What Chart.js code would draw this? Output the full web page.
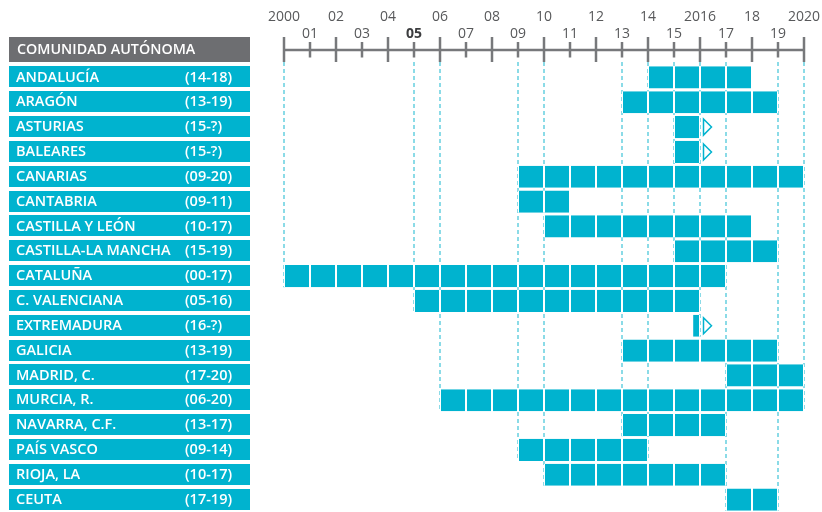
<!DOCTYPE html>
<html>
<head>
<meta charset="utf-8">
<script src="https://cdn.jsdelivr.net/npm/chart.js@4.4.1/dist/chart.umd.min.js"></script>
<style>
  html, body { margin: 0; padding: 0; background: #fff; }
</style>
</head>
<body>
<canvas id="chart" width="822" height="512"></canvas>
<script>
const regions = ['ANDALUCÍA', 'ARAGÓN', 'ASTURIAS', 'BALEARES', 'CANARIAS', 'CANTABRIA', 'CASTILLA Y LEÓN',
  'CASTILLA-LA MANCHA', 'CATALUÑA', 'C. VALENCIANA', 'EXTREMADURA', 'GALICIA', 'MADRID, C.', 'MURCIA, R.',
  'NAVARRA, C.F.', 'PAÍS VASCO', 'RIOJA, LA', 'CEUTA'];
const periods = ['(14-18)', '(13-19)', '(15-?)', '(15-?)', '(09-20)', '(09-11)', '(10-17)', '(15-19)', '(00-17)',
  '(05-16)', '(16-?)', '(13-19)', '(17-20)', '(06-20)', '(13-17)', '(09-14)', '(10-17)', '(17-19)'];
const startYears = [2014, 2013, 2015, 2015, 2009, 2009, 2010, 2015, 2000, 2005, 2015.7, 2013, 2017, 2006, 2013, 2009, 2010, 2017];
const endYears = [2018, 2019, 2016, 2016, 2020, 2011, 2018, 2019, 2017, 2016, 2016, 2019, 2020, 2020, 2017, 2014, 2017, 2019];
const openEnded = [false, false, true, true, false, false, false, false, false, false, true, false, false, false, false, false, false, false];
const tickYears = [2000, 2001, 2002, 2003, 2004, 2005, 2006, 2007, 2008, 2009, 2010, 2011, 2012, 2013, 2014, 2015, 2016, 2017, 2018, 2019, 2020];
const tickLabels = ['2000', '01', '02', '03', '04', '05', '06', '07', '08', '09', '10', '11', '12', '13', '14', '15', '2016', '17', '18', '19', '2020'];
const boldTicks = ['05'];
const dashedYears = [2000, 2005, 2006, 2009, 2010, 2013, 2014, 2015, 2016, 2017, 2019, 2020];
const headerText = 'COMUNIDAD AUTÓNOMA';

const CYAN = '#00b3cf';
const DASH = '#66cfe0';
const GREY = '#6d6e71';
const FONT = '"Open Sans", "Noto Sans", sans-serif';
const BAR_PCT = 0.89;

// one dataset per calendar year, each holding the slice of every bar that falls in that year
const datasets = [];
for (let y = 2000; y < 2020; y++) {
  datasets.push({
    data: regions.map((_, i) => (startYears[i] < y + 1 && endYears[i] > y)
      ? [Math.max(startYears[i], y), Math.min(endYears[i], y + 1)] : null),
    backgroundColor: CYAN,
    borderColor: '#ffffff',
    borderWidth: { left: 1, right: 1, top: 0, bottom: 0 },
    borderSkipped: false,
    grouped: false,
    barPercentage: BAR_PCT,
    categoryPercentage: 1,
  });
}

const ganttDecor = {
  id: 'ganttDecor',
  beforeDatasetsDraw(chart) {
    const { ctx, scales: { x, y }, chartArea } = chart;
    const half = (y.getPixelForValue(1) - y.getPixelForValue(0)) * BAR_PCT / 2;
    ctx.save();
    ctx.strokeStyle = DASH;
    ctx.lineWidth = 1.5;
    ctx.setLineDash([4, 3]);
    dashedYears.forEach(year => {
      let last = -1;
      regions.forEach((_, i) => { if (startYears[i] === year || endYears[i] === year) last = i; });
      const bottom = last < 0 ? chartArea.bottom : y.getPixelForValue(last) + half;
      const px = Math.round(x.getPixelForValue(year));
      ctx.beginPath();
      ctx.moveTo(px, 62);
      ctx.lineTo(px, bottom);
      ctx.stroke();
    });
    ctx.restore();
  },
  afterDraw(chart) {
    const { ctx, scales: { x, y } } = chart;
    ctx.save();

    // top year axis
    ctx.strokeStyle = '#77787b';
    ctx.lineWidth = 2.5;
    ctx.beginPath();
    ctx.moveTo(x.getPixelForValue(2000), 50);
    ctx.lineTo(x.getPixelForValue(2020), 50);
    ctx.stroke();
    ctx.textAlign = 'center';
    ctx.textBaseline = 'middle';
    tickYears.forEach((year, i) => {
      const px = Math.round(x.getPixelForValue(year));
      const major = year % 2 === 0;
      ctx.beginPath();
      ctx.moveTo(px, major ? 37 : 42);
      ctx.lineTo(px, major ? 62 : 57.5);
      ctx.stroke();
      const bold = boldTicks.includes(tickLabels[i]);
      ctx.fillStyle = bold ? '#3c3d3f' : '#58595b';
      ctx.font = (bold ? '700 ' : '400 ') + '14px ' + FONT;
      ctx.fillText(tickLabels[i], px, major ? 17 : 34);
    });

    // header box
    ctx.fillStyle = GREY;
    ctx.fillRect(9, 37, 241, 25);
    ctx.fillStyle = '#ffffff';
    ctx.textAlign = 'left';
    ctx.font = '600 14.3px ' + FONT;
    ctx.fillText(headerText, 17, 50);

    // row label boxes
    regions.forEach((name, i) => {
      const cy = y.getPixelForValue(i);
      ctx.fillStyle = CYAN;
      ctx.fillRect(9, Math.round(cy - 11), 241, 21);
      ctx.fillStyle = '#ffffff';
      ctx.font = '600 14.5px ' + FONT;
      ctx.fillText(name, 16, cy);
      ctx.fillText(periods[i], 185, cy);
    });

    // open-ended arrows
    ctx.strokeStyle = CYAN;
    ctx.lineWidth = 1.5;
    openEnded.forEach((open, i) => {
      if (!open) return;
      const cy = y.getPixelForValue(i);
      const ex = x.getPixelForValue(endYears[i]);
      ctx.beginPath();
      ctx.moveTo(ex + 3.5, cy - 8);
      ctx.lineTo(ex + 11.5, cy);
      ctx.lineTo(ex + 3.5, cy + 8);
      ctx.closePath();
      ctx.stroke();
    });
    ctx.restore();
  }
};

new Chart(document.getElementById('chart'), {
  type: 'bar',
  data: { labels: regions, datasets },
  options: {
    indexAxis: 'y',
    responsive: false,
    animation: false,
    layout: { padding: { left: 284, right: 18, top: 65, bottom: 0 } },
    scales: {
      x: { type: 'linear', min: 2000, max: 2020, display: false },
      y: { display: false }
    },
    plugins: { legend: { display: false }, tooltip: { enabled: false } }
  },
  plugins: [ganttDecor]
});
</script>
</body>
</html>
